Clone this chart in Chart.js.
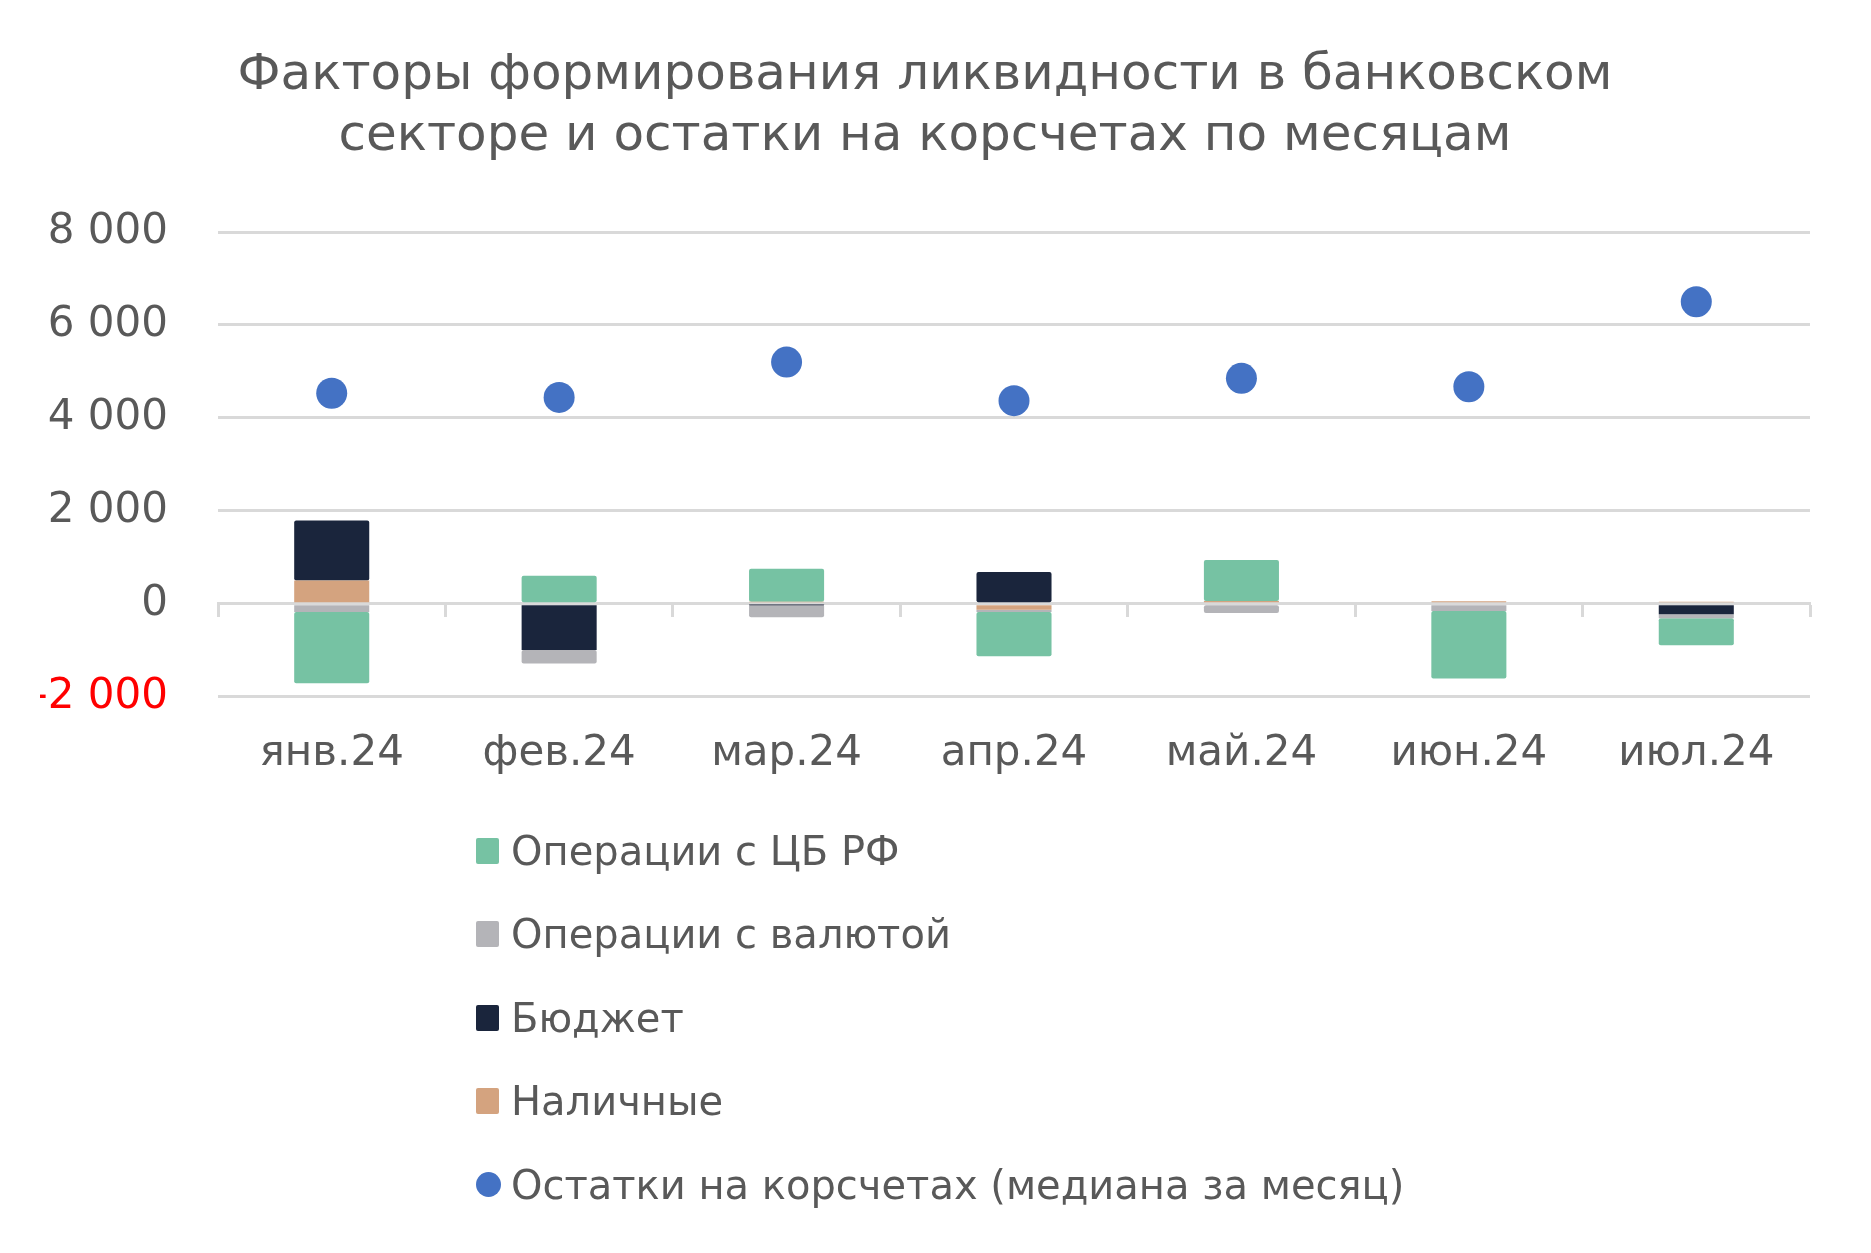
<!DOCTYPE html>
<html lang="ru">
<head>
<meta charset="utf-8">
<title>Факторы формирования ликвидности</title>
<script src="https://cdn.jsdelivr.net/npm/chart.js@4.4.1/dist/chart.umd.min.js"></script>
<style>
  html, body { margin: 0; padding: 0; background: #fff; }
  #wrap { position: relative; width: 1871px; height: 1253px; }
  #legend {
    position: absolute; left: 476px; top: 809px;
    font-family: 'DejaVu Sans', sans-serif; font-size: 40px; color: #595959;
  }
  .item { height: 83.5px; display: flex; align-items: center; white-space: nowrap; }
  .swatch { width: 23px; height: 26px; border-radius: 2px; margin-right: 12px; flex: none; }
  .dot { width: 25px; height: 25px; border-radius: 50%; margin-right: 10px; flex: none; }
</style>
</head>
<body>
<div id="wrap">
  <canvas id="chart" width="1871" height="1253"></canvas>
  <div id="legend"></div>
</div>
<script>
// ── Данные (млрд руб.) ───────────────────────────────────────
const months = ['янв.24', 'фев.24', 'мар.24', 'апр.24', 'май.24', 'июн.24', 'июл.24'];

const cash     = [500,    0,   40, -130,   60,   50,   40];   // Наличные
const budget   = [1290, -995, -20,  680,    0,    0, -230];   // Бюджет
const fxOps    = [-180, -290, -270, -50, -200, -160,  -85];   // Операции с валютой
const cbrOps   = [-1535, 600,  710, -950,  880, -1450, -580]; // Операции с ЦБ РФ
const balances = [4530, 4440, 5200, 4370, 4850, 4670, 6500];  // Остатки на корсчетах

const yTicks = [-2000, 0, 2000, 4000, 6000, 8000];

// ── Цвета ───────────────────────────────────────────────────
const COLORS = {
    cbr:    '#76c2a3',
    fx:     '#b4b4b8',
    budget: '#1a253c',
    cash:   '#d4a37f',
    dots:   '#4472c4',
    text:   '#595959',
    grid:   '#d9d9d9',
};

const FONT = "'DejaVu Sans', sans-serif";

// Порядок наложения как в исходнике: наличные ближе всего к нулю
const barSeries = [
    { label: 'Наличные',           data: cash,   color: COLORS.cash },
    { label: 'Бюджет',             data: budget, color: COLORS.budget },
    { label: 'Операции с валютой', data: fxOps,  color: COLORS.fx },
    { label: 'Операции с ЦБ РФ',   data: cbrOps, color: COLORS.cbr },
];

function fmt(v) {
    const s = String(Math.abs(v)).replace(/\B(?=(\d{3})+(?!\d))/g, ' ');
    return (v < 0 ? '-' : '') + s;
}

const datasets = barSeries.map(s => ({
    type: 'bar',
    label: s.label,
    data: s.data,
    backgroundColor: s.color,
    borderWidth: 0,
    borderRadius: 2,
    borderSkipped: false,
    stack: 'factors',
    barPercentage: 1,
    categoryPercentage: 0.33,
}));

datasets.push({
    type: 'line',
    label: 'Остатки на корсчетах (медиана за месяц)',
    data: balances,
    showLine: false,
    stack: 'dots',
    pointRadius: 15.5,
    pointBackgroundColor: COLORS.dots,
    pointBorderWidth: 0,
    xAxisID: 'x',
});

new Chart(document.getElementById('chart'), {
    data: { labels: months, datasets: datasets },
    options: {
        responsive: false,
        animation: false,
        devicePixelRatio: 1,
        layout: { padding: { left: 40, right: 61, top: 0, bottom: 450 } },
        scales: {
            x: {
                stacked: true,
                grid: { display: false },
                border: { display: false },
                ticks: {
                    color: COLORS.text,
                    font: { family: FONT, size: 42 },
                    padding: 24,
                    maxRotation: 0,
                },
            },
            // ось по нулю с рисками между месяцами
            xZero: {
                type: 'category',
                labels: months,
                position: { y: 0 },
                offset: true,
                z: 1,
                grid: {
                    offset: true,
                    drawOnChartArea: false,
                    drawTicks: true,
                    tickLength: 12,
                    tickWidth: 3,
                    tickColor: COLORS.grid,
                },
                border: { display: true, color: COLORS.grid, width: 3 },
                ticks: { display: false },
            },
            y: {
                stacked: true,
                min: -2000,
                max: 8000,
                afterBuildTicks: axis => { axis.ticks = yTicks.map(v => ({ value: v })); },
                afterFit: axis => { axis.width = 178; },
                grid: { color: COLORS.grid, lineWidth: 3, drawTicks: false },
                border: { display: false },
                ticks: {
                    padding: 50,
                    font: { family: FONT, size: 42 },
                    color: ctx => (ctx.tick && ctx.tick.value < 0 ? '#ff0000' : COLORS.text),
                    callback: v => fmt(v),
                },
            },
        },
        plugins: {
            legend: { display: false },
            tooltip: { enabled: false },
            title: {
                display: true,
                text: ['Факторы формирования ликвидности в банковском',
                       'секторе и остатки на корсчетах по месяцам'],
                color: COLORS.text,
                font: { family: FONT, size: 50, weight: 'normal', lineHeight: 1.22 },
                padding: { top: 46, bottom: 64 },
            },
        },
    },
});

// ── Легенда (вертикальная, под графиком) ────────────────────
const legendItems = [
    { label: 'Операции с ЦБ РФ',   color: COLORS.cbr,    cls: 'swatch' },
    { label: 'Операции с валютой', color: COLORS.fx,     cls: 'swatch' },
    { label: 'Бюджет',             color: COLORS.budget, cls: 'swatch' },
    { label: 'Наличные',           color: COLORS.cash,   cls: 'swatch' },
    { label: 'Остатки на корсчетах (медиана за месяц)', color: COLORS.dots, cls: 'dot' },
];
const legendEl = document.getElementById('legend');
legendItems.forEach(it => {
    const row = document.createElement('div');
    row.className = 'item';
    const mark = document.createElement('span');
    mark.className = it.cls;
    mark.style.background = it.color;
    const txt = document.createElement('span');
    txt.textContent = it.label;
    row.appendChild(mark);
    row.appendChild(txt);
    legendEl.appendChild(row);
});
</script>
</body>
</html>
